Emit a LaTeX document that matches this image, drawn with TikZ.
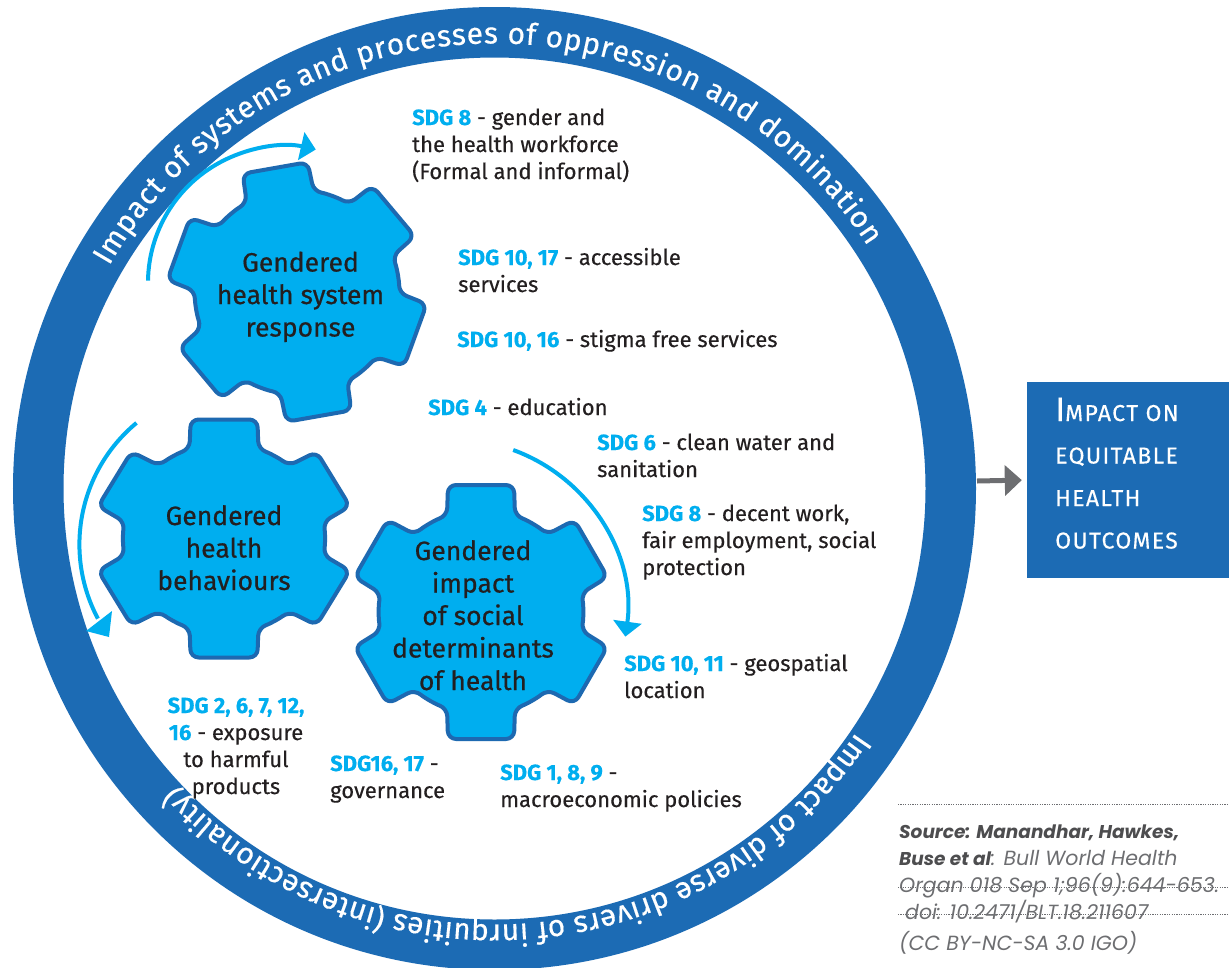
\documentclass[tikz,border=0pt]{standalone}
\usepackage{fontspec}
\setmainfont{Fira Sans}
\newfontfamily\medfont{Fira Sans}[FakeBold=0.3]
\newfontfamily\gearfont{Fira Sans}[FakeBold=0.6]
\newfontfamily\boxfont{Fira Sans}[LetterSpace=6,FakeBold=0.3]
\newfontfamily\ringtxtfont{Fira Sans}[FakeBold=0.4]
\newfontfamily\srcfont{Poppins}
\usetikzlibrary{decorations.text,arrows.meta}
\definecolor{ringblue}{HTML}{1C6BB4}
\definecolor{gearline}{HTML}{1D69B1}
\definecolor{sdgcyan}{HTML}{00AEEF}
\definecolor{txtdark}{HTML}{231F20}
\definecolor{arrowgray}{HTML}{6D6E71}
\definecolor{srcdark}{HTML}{4D4D4F}
\definecolor{srclight}{HTML}{6D6E71}
\newcommand\sdg[1]{\textcolor{sdgcyan}{\bfseries #1}}
\newcommand\srcb[1]{\textcolor{srcdark}{\bfseries\fontsize{18.5}{27}\selectfont #1}}
\newcommand\lblL[1]{\begin{tabular}[t]{@{}l@{}}#1\end{tabular}}
\newcommand\lblC[1]{\begin{tabular}[t]{@{}c@{}}#1\end{tabular}}
\newcommand\ringfont{\ringtxtfont\fontsize{30}{30}\selectfont}
% cx cy Rt Rr wt wr rot xscale
\newcommand\drawgear[8]{%
  \begin{scope}[shift={(#1,-#2)},xscale=#8,rotate=#7]
    \pgfmathsetmacro\gdr{asin(#6/#4)}
    \pgfmathsetmacro\gdt{atan(#5/#3)}
    \pgfmathsetmacro\gRc{veclen(#3,#5)}
    \draw[gearshape] ({90-\gdt}:\gRc)
      \foreach \k in {0,...,4}{
        -- ({90+60*\k+\gdt}:\gRc) -- ({90+60*\k+\gdr}:#4)
        arc[start angle={90+60*\k+\gdr}, end angle={150+60*\k-\gdr}, radius=#4]
        -- ({150+60*\k-\gdt}:\gRc)}
      -- ({390+\gdt}:\gRc) -- ({390+\gdr}:#4)
      arc[start angle={390+\gdr}, end angle={450-\gdr}, radius=#4] -- cycle;
  \end{scope}}
\tikzset{
  gearshape/.style={fill=sdgcyan, draw=gearline, line width=4pt, rounded corners=8pt, line join=round},
  cyanline/.style={draw=sdgcyan, line width=4pt},
  cyanarc/.style={cyanline, -{Triangle[width=28pt,length=15pt]}},
  cyanhead/.style={fill=sdgcyan, draw=none},
  lbl/.style={inner sep=0pt, anchor=base west, text=txtdark, font=\medfont\fontsize{22}{27}\selectfont},
  lblc/.style={inner sep=0pt, anchor=base, text=txtdark, font=\medfont\fontsize{22}{27}\selectfont},
  geartext/.style={inner sep=0pt, anchor=base, text=txtdark, font=\gearfont\fontsize{26.5}{32.5}\selectfont},
  outbox/.style={fill=ringblue, draw=none, minimum width=202pt, minimum height=196pt, inner sep=0pt},
  boxtext/.style={inner sep=0pt, anchor=base west, text=white, font=\boxfont\fontsize{23}{42.5}\selectfont},
  grayarrow/.style={draw=arrowgray, line width=5pt, -{Triangle[width=30pt,length=17pt]}, shorten >=5pt},
  srclbl/.style={inner sep=0pt, anchor=base west, text=srclight, font=\srcfont\itshape\fontsize{20.5}{27}\selectfont},
  dotline/.style={draw=srclight, line width=0.8pt, dash pattern=on 1.2pt off 1.2pt}
}
\begin{document}
\begin{tikzpicture}[x=1pt,y=1pt]
\fill[white] (0,0) rectangle (1229,-967);
\useasboundingbox (0,0) rectangle (1229,-967);
\clip (0,0) rectangle (1229,-967);
\coordinate (C) at (494.5,-488.5);
% ring
\draw[ringblue, line width=50.5pt] (C) circle[radius=456.25];
\path[decorate, decoration={text along path, text color=white, text align=fit to path,
  text={|\ringfont|Impact of systems and processes of oppression and domination}}]
  ([shift={(150:445)}]C) arc[start angle=150, end angle=33, radius=445];
\path[decorate, decoration={text along path, text color=white, text align=fit to path,
  text={|\ringfont|Impact of diverse drivers of inrquities (intersectionality)}}]
  ([shift={(-34:436)}]C) arc[start angle=-34, end angle=-137, radius=436];
% cyan rotation arrows
\coordinate (a1) at (148,-280.6);
\coordinate (a2) at (136.5,-422.9);
\coordinate (a3) at (513.2,-450.0);
\draw[cyanarc] (a1) arc[start angle=179, end angle=77, radius=137];
\draw[cyanline] (a2) arc[start angle=129.7, end angle=208, radius=158] coordinate (a2end);
\fill[cyanhead] (86,-631) -- (112,-611) -- (109,-637) -- cycle;
\draw[cyanarc] (a3) arc[start angle=70, end angle=-8, radius=173];
% gears
\drawgear{297}{292}{126}{102}{33}{34}{10}{1}
\drawgear{224}{538.5}{119}{95}{31.5}{32.5}{0}{1.06}
\drawgear{481}{612}{127}{102}{33}{34}{0}{1}
\node[geartext] (g1) at (300.5,-271.5) {\lblC{Gendered\\health system\\response}};
\node[geartext] (g2) at (224,-525) {\lblC{Gendered\\health\\behaviours}};
\node[geartext] (g3) at (473,-560) {\lblC{Gendered\\impact\\of social\\determinants\\of health}};
% SDG labels
\node[lbl] (l1) at (412,-125) {\lblL{\sdg{SDG 8} - gender and\\the health workforce\\(Formal and informal)}};
\node[lbl] (l2) at (458,-265) {\lblL{\sdg{SDG 10, 17} - accessible\\services}};
\node[lbl] (l3) at (457,-347) {\lblL{\sdg{SDG 10, 16} - stigma free services}};
\node[lbl] (l4) at (428,-415) {\lblL{\sdg{SDG 4} - education}};
\node[lbl] (l5) at (597,-450) {\lblL{\sdg{SDG 6} - clean water and\\sanitation}};
\node[lbl] (l6) at (642,-521) {\lblL{\sdg{SDG 8} - decent work,\\fair employment, social\\protection}};
\node[lbl] (l7) at (624,-671) {\lblL{\sdg{SDG 10, 11} - geospatial\\location}};
\node[lbl] (l8) at (500,-780) {\lblL{\sdg{SDG 1, 8, 9} -\\macroeconomic policies}};
\node[lbl] (l9) at (330,-771) {\lblL{\sdg{SDG16, 17} -\\governance}};
\node[lblc] (l10) at (236,-713) {\lblC{\sdg{SDG 2, 6, 7, 12,}\\\sdg{16} - exposure\\to harmful\\products}};
% outcome box
\coordinate (ringE) at (977,-481);
\node[outbox] (box) at (1128,-480) {};
\draw[grayarrow] (ringE) -- (box.west);
\node[boxtext] (boxt) at (1055,-421) {\lblL{{\fontsize{34}{42.5}\selectfont I}MPACT ON\\EQUITABLE\\HEALTH\\OUTCOMES}};
% source
\draw[dotline] (898,-804) -- (1229,-804);
\node[srclbl] (src) at (899,-838) {\lblL{\srcb{Source: Manandhar, Hawkes,}\\\srcb{Buse et al}: Bull World Health\\Organ 018 Sep 1;96(9):644-653.\\\hspace{6pt}doi: 10.2471/BLT.18.211607}};
\draw[dotline] (898,-887) -- (1229,-887);
\draw[dotline] (898,-914) -- (1229,-914);
\node[srclbl] (lic) at (899,-950) {(CC BY-NC-SA 3.0 IGO)};
\end{tikzpicture}
\end{document}
